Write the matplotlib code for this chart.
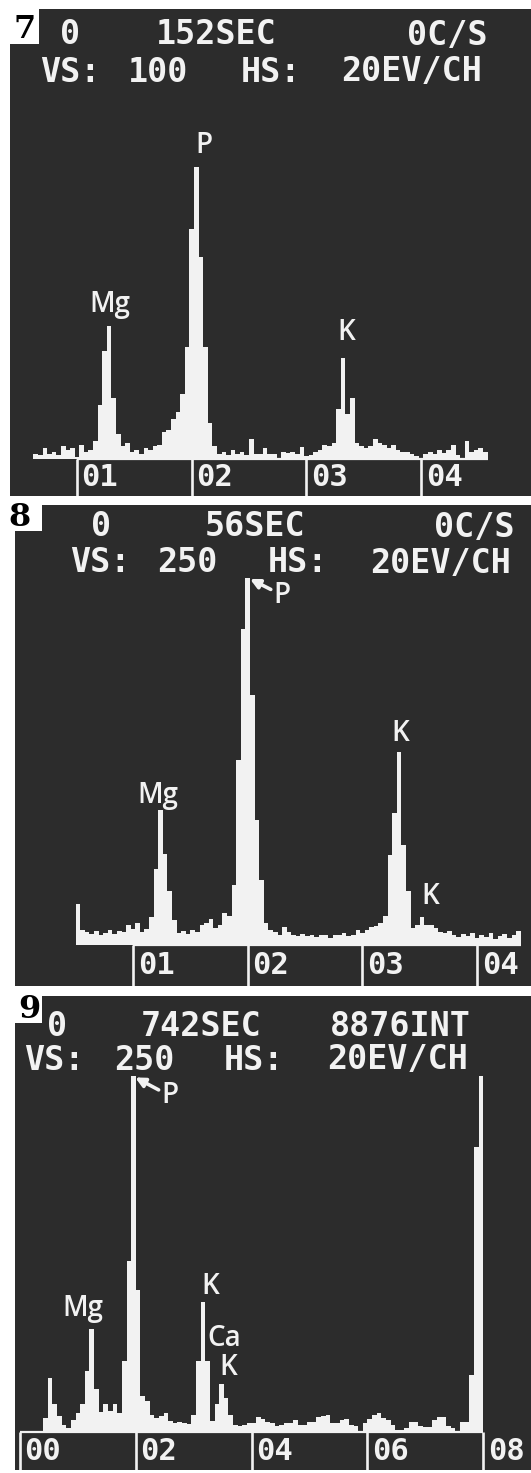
import numpy as np
import matplotlib
matplotlib.use("Agg")
import matplotlib.pyplot as plt
from matplotlib.patches import Rectangle

W, H = 531, 1473          # output size in pixels (dpi 100)
DARK = "#2c2c2c"
LIGHT = "#f2f2f2"
CRT = "DejaVu Sans Mono"

## Spectrum counts
## panel 7 and 8: 40 eV bins, panel 9: 80 eV bins
start7, step7 = 0.62, 0.04
counts7 = [1.5, 1, 3, 1.5, 2, 1, 3.5, 2.5, 3, 0.5, 4, 2, 2.5,
           5, 15, 30, 37, 17, 7, 3.5,
           4.5, 2, 2.5, 1.5, 3, 2.5, 3.5, 4, 7.5, 8,
           11, 13, 18, 31, 64, 81, 56, 31, 10, 3.5,
           1.5, 2, 1, 2.5, 1.5, 2, 1, 5.5, 1.5, 1.5, 3, 1.5, 1.5, 0.3, 2, 1.8,
           2, 1.5, 3.3, 0.8, 1.2, 2, 2.5, 3.8, 3.5, 4.5,
           14, 28, 12.5, 17, 4.5, 3.5, 3, 3.5,
           5.5, 4.5, 4, 3, 4, 2.5, 2, 2, 1.5, 0.8, 0.2, 1.5, 2, 1.5, 2.5, 1.8,
           2.5, 4, 1, 0.3, 5, 2, 2.5, 3, 2]

start8, step8 = 0.50, 0.04
counts8 = [28, 10, 9, 7.5, 9.5, 7, 8, 10, 7.5, 9.5, 9, 13.5, 11, 15, 9, 11,
           19, 52, 92, 62, 37, 17,
           8, 9.5, 7.5, 10, 9, 13.5, 15, 18, 11.5, 13.5, 22,
           20, 41, 126, 215, 250, 170, 85, 44, 15, 10,
           9, 7, 12, 9, 7, 6, 7.5, 6, 7, 5.5, 6.5, 7, 5, 6.5, 7, 8, 6, 7, 10,
           8, 10, 12, 13,
           15, 20, 61, 90, 131, 68, 37, 11.5, 13.5, 19, 13.5, 13.5, 11.5, 9,
           8, 9.5, 7, 5.5, 7.5, 6, 8, 5, 7, 5.5, 8, 4, 6, 7.5, 5, 7, 9.5]

start9, step9 = 0.40, 0.08
counts9 = [10, 38, 20, 11, 5, 3, 8.5, 13, 20,
           43, 72, 30, 14, 20, 15, 20, 13,
           50, 120, 250, 100, 25, 22, 12, 10, 11, 13, 8, 6, 7, 6.5, 5.5,
           12, 50, 91, 50, 8, 20, 34, 24, 12, 5, 4,
           5, 6, 6.5, 10.5, 9, 7, 6, 4, 5, 6.5, 6, 8.5, 5, 5, 7, 7, 10.5, 11,
           12, 6.5, 6, 8.5, 9, 5, 4, 0.7, 6.5, 9, 12, 13, 10, 8.5, 5, 1.5,
           1.5, 3, 7, 7, 4, 3.5, 3.5, 8.5, 10.5, 10.5, 4, 3, 0.7, 7, 7, 40,
           200, 250]

## Axis marks (keV) and their labels
ticks7 = [1, 2, 3, 4]
ticks8 = [1, 2, 3, 4]
ticks9 = [0, 2, 4, 6, 8]
ticklab7 = ["01", "02", "03", "04"]
ticklab8 = ["01", "02", "03", "04"]
ticklab9 = ["00", "02", "04", "06", "08"]

## Screen header lines
head7 = ["0", "152SEC", "0C/S", "VS:", "100", "HS:", "20EV/CH"]
head8 = ["0", "56SEC", "0C/S", "VS:", "250", "HS:", "20EV/CH"]
head9 = ["0", "742SEC", "8876INT", "VS:", "250", "HS:", "20EV/CH"]
fullscale7, fullscale8, fullscale9 = 100, 250, 250

## Peak labels: (text, keV, counts), arrow target for P where needed
peaks7 = [("Mg", 1.29, 43), ("P", 2.11, 87), ("K", 3.35, 35)]
peaks8 = [("Mg", 1.22, 102), ("K", 3.33, 144), ("K", 3.59, 33)]
peaks9 = [("Mg", 1.09, 87), ("K", 3.28, 102), ("Ca", 3.53, 66), ("K", 3.60, 45)]
arrow8 = ("P", 2.30, 238, 2.02, 249)
arrow9 = ("P", 2.59, 236, 1.99, 249)

fig = plt.figure(figsize=(W / 100, H / 100), dpi=100)
fig.patch.set_facecolor("white")


def fx(x):
    return x / W


def fy(y):
    return 1 - y / H


def panel(box, base, e0x, pxkev, pxc, start, step, counts, fullscale,
          ticks, ticklab, head, head_x, head_y, peaks, arrow=None):
    l, t, r, b = box
    ax = fig.add_axes([fx(l), fy(b), fx(r - l), (b - t) / H])
    ax.set_facecolor(DARK)
    for s in ax.spines.values():
        s.set_visible(False)
    ax.set_xticks([]); ax.set_yticks([])
    ax.set_xlim((l - e0x) / pxkev, (r - e0x) / pxkev)
    ylo, yhi = -(b - base) / pxc, (base - t) / pxc
    ax.set_ylim(ylo, yhi)

    edges = start + step * np.arange(len(counts) + 1)
    vals = np.minimum(np.array(counts, dtype=float), fullscale)
    ax.stairs(vals, edges, fill=True, color=LIGHT, baseline=0, zorder=3)

    # label strip under the spectrum
    ax.hlines(0, ticks[0], max(ticks[-1], edges[-1]), color=LIGHT, lw=1.6, zorder=2)
    ax.vlines(ticks, ylo, 0, color=LIGHT, lw=1.9, zorder=2)
    off = 23 / pxkev
    for tk, lab in zip(ticks, ticklab):
        ax.text(tk + off, ylo / 2, lab, family=CRT, weight="bold", size=22,
                color=LIGHT, ha="center", va="center")

    # screen header, two rows
    for i, (s, xc) in enumerate(zip(head, head_x)):
        yc = head_y[0] if i < len(head) - 4 else head_y[1]
        fig.text(fx(xc), fy(yc), s, family=CRT, weight="bold", size=24,
                 color=LIGHT, ha="center", va="center")

    for s, e, c in peaks:
        ax.text(e, c, s, family="Open Sans", weight="semibold", size=20,
                color=LIGHT, ha="center", va="center", zorder=4)
    if arrow:
        s, e, c, ea, ca = arrow
        ax.annotate(s, xy=(ea, ca), xytext=(e, c), family="Open Sans",
                    weight="semibold", size=20, color=LIGHT, ha="center",
                    va="center", zorder=4,
                    arrowprops=dict(arrowstyle="-|>", color=LIGHT, lw=2.6,
                                    mutation_scale=14, shrinkA=0, shrinkB=0))
    return ax


panel((10, 9, 531, 496), 459, -37.7, 114.7, 3.6, start7, step7, counts7, fullscale7,
      ticks7, ticklab7, head7, [70, 216, 447, 70, 158, 271, 412], (35, 72), peaks7)
panel((15, 505, 531, 986), 945, 18.3, 114.7, 1.47, start8, step8, counts8, fullscale8,
      ticks8, ticklab8, head8, [101, 255, 474, 100, 187, 298, 441], (527, 563), peaks8, arrow8)
panel((15, 996, 531, 1470), 1432, 20, 57.9, 1.424, start9, step9, counts9, fullscale9,
      ticks9, ticklab9, head9, [57, 201, 400, 54, 144, 254, 398], (1027, 1060), peaks9, arrow9)

## figure numbers in white corner boxes
for num, (l, t, r, b), (cx, cy) in [("7", (10, 9, 39, 44), (25, 29)),
                                    ("8", (0, 503, 42, 531), (20, 517)),
                                    ("9", (15, 995, 42, 1023), (29, 1010))]:
    fig.add_artist(Rectangle((fx(l), fy(b)), fx(r - l), (b - t) / H,
                             transform=fig.transFigure, facecolor="white",
                             edgecolor="none", zorder=5))
    fig.text(fx(cx), fy(cy), num, family="DejaVu Serif", weight="bold", size=23,
             color="black", ha="center", va="center", zorder=6)

plt.savefig("out.png", dpi=100, facecolor="white")
